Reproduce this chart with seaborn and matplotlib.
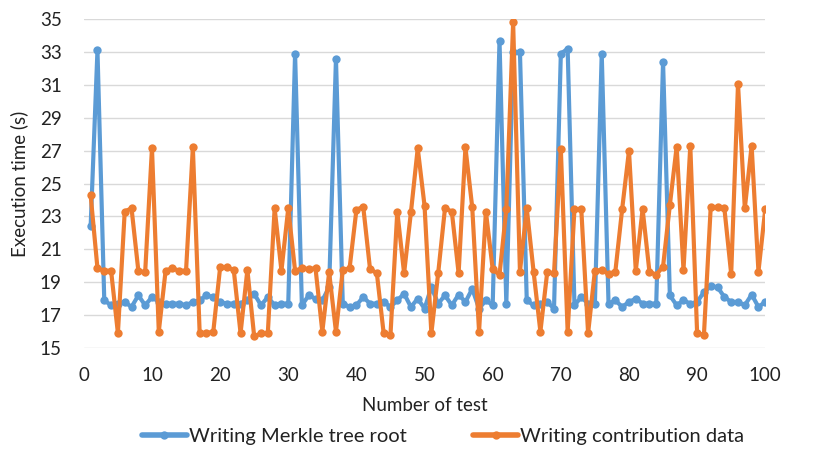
import numpy as np
import pandas as pd
import matplotlib
matplotlib.use("Agg")
import matplotlib.pyplot as plt
import seaborn as sns

tests = list(range(1, 101))

merkle_root = [
    22.4, 33.1, 17.9, 17.6, 17.7, 17.8, 17.5, 18.2, 17.6, 18.1,
    17.8, 17.7, 17.7, 17.7, 17.6, 17.8, 17.9, 18.2, 18.1, 17.8,
    17.7, 17.7, 17.7, 17.9, 18.3, 17.6, 18.1, 17.6, 17.7, 17.7,
    32.9, 17.6, 18.2, 18.0, 17.9, 18.7, 32.6, 17.7, 17.5, 17.6,
    18.1, 17.7, 17.7, 17.8, 17.5, 17.9, 18.3, 17.5, 18.0, 17.4,
    18.7, 17.7, 18.2, 17.6, 18.25, 17.8, 18.6, 17.4, 17.9, 17.6,
    33.7, 17.7, 33.0, 33.0, 17.9, 17.6, 17.7, 17.8, 17.4, 32.9,
    33.2, 17.6, 18.1, 17.7, 17.7, 32.9, 17.7, 17.9, 17.5, 17.8,
    18.0, 17.7, 17.7, 17.7, 32.4, 18.2, 17.6, 17.9, 17.7, 17.8,
    18.4, 18.75, 18.7, 18.1, 17.8, 17.8, 17.6, 18.25, 17.5, 17.8,
]

contribution = [
    24.3, 19.85, 19.7, 19.7, 15.9, 23.3, 23.5, 19.7, 19.6, 27.15,
    16.0, 19.7, 19.85, 19.7, 19.7, 27.2, 15.9, 15.9, 16.0, 19.9,
    19.9, 19.75, 15.9, 19.75, 15.7, 15.9, 15.9, 23.5, 19.7, 23.5,
    19.7, 19.85, 19.8, 19.85, 16.0, 19.6, 16.0, 19.75, 19.85, 23.4,
    23.6, 19.8, 19.55, 15.9, 15.8, 23.3, 19.55, 23.25, 27.15, 23.65,
    15.9, 19.55, 23.5, 23.3, 19.55, 27.2, 23.55, 16.0, 23.3, 19.8,
    19.45, 23.45, 34.8, 19.65, 23.5, 19.65, 16.0, 19.6, 19.55, 27.1,
    16.0, 23.45, 23.45, 15.9, 19.7, 19.75, 19.5, 19.65, 23.45, 27.0,
    19.7, 23.45, 19.65, 19.45, 19.95, 23.7, 27.25, 19.75, 27.3, 15.9,
    15.8, 23.6, 23.55, 23.5, 19.5, 31.05, 23.5, 27.3, 19.65, 23.45,
]

series_names = ["Writing Merkle tree root", "Writing contribution data"]
colors = ["#5B9BD5", "#ED7D31"]

df = pd.DataFrame({
    "test": tests * 2,
    "time": merkle_root + contribution,
    "series": [series_names[0]] * len(tests) + [series_names[1]] * len(tests),
})

sns.set_style("white")
plt.rcParams["font.family"] = ["Lato", "DejaVu Sans"]

fig = plt.figure(figsize=(8.3, 4.57), dpi=100)
ax = fig.add_axes([0.101, 0.2385, 0.821, 0.7195])

sns.lineplot(data=df, x="test", y="time", hue="series", palette=colors,
             marker="o", markersize=6, markeredgewidth=0, linewidth=3,
             ax=ax, legend=True)

ax.set_xlim(0, 100)
ax.set_ylim(15, 35)
ax.set_xticks(np.arange(0, 101, 10))
ax.set_yticks(np.arange(15, 36, 2))
ax.grid(axis="y", color="#d9d9d9", linewidth=1)
ax.set_axisbelow(True)
for s in ax.spines.values():
    s.set_visible(False)
ax.tick_params(axis="both", length=0, labelsize=13.5, colors="#222222")
ax.tick_params(axis="x", pad=14)
ax.tick_params(axis="y", pad=16)
ax.set_xlabel("Number of test", fontsize=13.5, color="#222222", labelpad=9)
ax.set_ylabel("Execution time (s)", fontsize=13.5, color="#222222", labelpad=8)

handles, labels = ax.get_legend_handles_labels()
leg = ax.legend(handles, labels, loc="center", bbox_to_anchor=(0.527, -0.268),
                ncol=2, frameon=False, fontsize=14.5, handlelength=2.25,
                handletextpad=0.1, columnspacing=3.3, labelcolor="#222222")
for line in leg.get_lines():
    line.set_linewidth(4)

fig.savefig("out.png", dpi=100)
plt.close(fig)
